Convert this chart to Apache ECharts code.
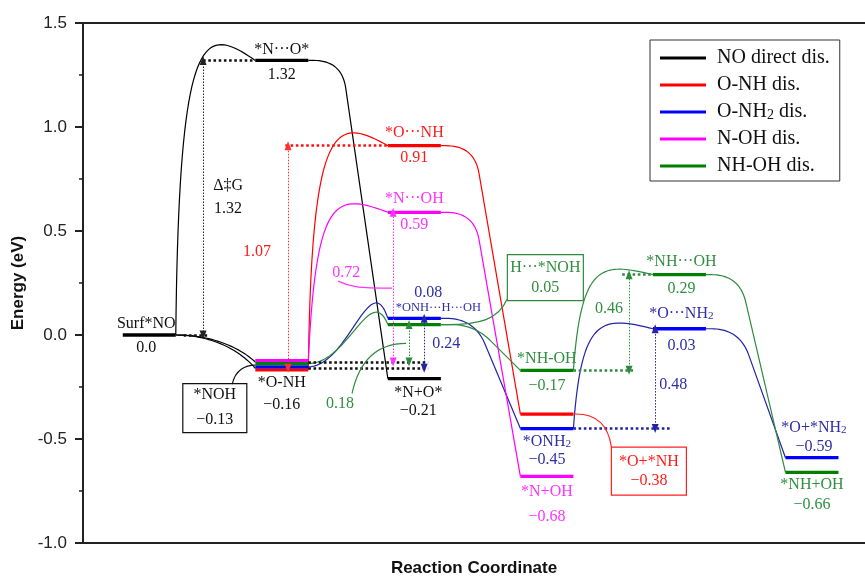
<!DOCTYPE html>
<html><head><meta charset="utf-8">
<script src="https://cdn.jsdelivr.net/npm/echarts@6/dist/echarts.min.js"></script>
<style>html,body{margin:0;padding:0;background:#fff}#c{width:865px;height:579px}</style>
</head><body><div id="c"></div>
<script>
// ---------------- DATA ----------------
const pathNames = ['NO direct dis.', 'O-NH dis.', 'O-NH2 dis.', 'N-OH dis.', 'NH-OH dis.'];

const stepsNoDirect = [0, 1, 2];
const energyNoDirect = [0.00, 1.32, -0.21];
const namesNoDirect = ['Surf*NO', '*N···O*', '*N+O*'];

const stepsONH = [1, 2, 3];
const energyONH = [-0.16, 0.91, -0.38];
const namesONH = ['*O-NH', '*O···NH', '*O+*NH'];

const stepsONH2 = [1, 2, 3, 4, 5];
const energyONH2 = [-0.16, 0.08, -0.45, 0.03, -0.59];
const namesONH2 = ['*O-NH', '*ONH···H···OH', '*ONH2', '*O···NH2', '*O+*NH2'];

const stepsNOH = [1, 2, 3];
const energyNOH = [-0.13, 0.59, -0.68];
const namesNOH = ['*NOH', '*N···OH', '*N+OH'];

const stepsNHOH = [1, 2, 3, 4, 5];
const energyNHOH = [-0.13, 0.05, -0.17, 0.29, -0.66];
const namesNHOH = ['*NOH', 'H···*NOH', '*NH-OH', '*NH···OH', '*NH+OH'];

const yTicks = [-1.0, -0.5, 0.0, 0.5, 1.0, 1.5];

// ---------------- STYLE ----------------
const levelColors = ['#000000', '#ff0000', '#0000ff', '#ff00ff', '#008000'];
const curveColors = ['#000000', '#ff0000', '#2323a8', '#ff00ff', '#2e8b3e'];
const textColors  = ['#111111', '#ff1a1a', '#2e2ea6', '#ff33ff', '#2f8f3f'];
const SERIF = '"Liberation Serif", "DejaVu Serif", serif';
const SANS = '"Liberation Sans", Arial, sans-serif';
const FS = 16;
const HALF = 0.2;                       // half width of a level bar (x units)
const clusterStagger = [0, 1.5, -1.5, -1.5, 1.5]; // px offsets where levels overlap at step 1
const ARROW = {black: 0.406, red: 1.047, magenta: 1.84, green1: 1.96, blue1: 2.074, green2: 3.62, blue2: 3.817};

const paths = [
  {steps: stepsNoDirect, e: energyNoDirect, names: namesNoDirect},
  {steps: stepsONH, e: energyONH, names: namesONH},
  {steps: stepsONH2, e: energyONH2, names: namesONH2},
  {steps: stepsNOH, e: energyNOH, names: namesNOH},
  {steps: stepsNHOH, e: energyNHOH, names: namesNHOH}
];

function fmt(v) { if (v === 0) return '0.0'; const s = Math.abs(v).toFixed(2); return v < 0 ? '\u2212' + s : s; }
function sub(s) { return s.replace(/NH2$/, 'NH{sub|2}'); }
function mid(a, b) { return (a + b) / 2; }
function off(p, s) { return (s === 1 && p > 0) ? clusterStagger[p] : 0; }

// ---------------- CURVES ----------------
function cubic(p0, p1, p2, p3, n) {
  const pts = [];
  for (let i = 0; i <= n; i++) {
    const t = i / n, u = 1 - t;
    const b0 = u*u*u, b1 = 3*u*u*t, b2 = 3*u*t*t, b3 = t*t*t;
    pts.push([b0*p0[0]+b1*p1[0]+b2*p2[0]+b3*p3[0], b0*p0[1]+b1*p1[1]+b2*p2[1]+b3*p3[1]]);
  }
  return pts;
}
function quad(p0, p1, p2, n) {
  const pts = [];
  for (let i = 0; i <= n; i++) {
    const t = i / n, u = 1 - t;
    pts.push([u*u*p0[0]+2*u*t*p1[0]+t*t*p2[0], u*u*p0[1]+2*u*t*p1[1]+t*t*p2[1]]);
  }
  return pts;
}
function connectorPoints(a, b, kind, thr) {
  const dx = b[0] - a[0];
  if (kind === 1) {
    return cubic(a, [a[0] + 0.45*dx, a[1]], [a[0] + 0.8*dx, a[1] + 0.45*(b[1]-a[1])], b, 30);
  }
  const h = a[1] - b[1];
  if (h > 0) {
    if (h < thr) {
      const beta = 1.1 * h;
      return cubic(a, [a[0] + 0.5*dx, a[1]], [a[0] + 0.78*dx, b[1] - beta], b, 40);
    }
    const beta = Math.max(12, 0.13 * h);
    const a1 = h > 200 ? 0.04 : 0.1;
    return cubic(a, [a[0] + a1*dx, b[1] - beta], [a[0] + 0.35*dx, b[1] - beta], b, 40);
  }
  const C = [a[0] + 0.42*dx, a[1]];
  const vx = b[0] - C[0], vy = b[1] - C[1], L = Math.hypot(vx, vy);
  const r = Math.min(28, L * 0.35, (C[0] - a[0]) * 0.95);
  const Q0 = [C[0] - r, C[1]], Q1 = [C[0] + vx/L*r, C[1] + vy/L*r];
  return [a].concat(quad(Q0, C, Q1, 20), [b]);
}

function renderLevel(params, api) {
  const c = api.value(0), e = api.value(1), o = api.value(2);
  const p1 = api.coord([c - HALF, e]), p2 = api.coord([c + HALF, e]);
  return {type: 'line', silent: true,
    shape: {x1: p1[0], y1: p1[1] + o, x2: p2[0], y2: p2[1] + o},
    style: {stroke: api.visual('color'), lineWidth: 3.3}};
}
function renderConnector(params, api) {
  const c0 = api.value(0), e0 = api.value(1), c1 = api.value(2), e1 = api.value(3);
  const o0 = api.value(4), o1 = api.value(5), kind = api.value(6);
  const a = api.coord([c0 + HALF, e0]); a[1] += o0;
  const b = api.coord([c1 - HALF, e1]); b[1] += o1;
  const thr = Math.abs(api.size([0, 0.3])[1]);
  return {type: 'polyline', silent: true,
    shape: {points: connectorPoints(a, b, kind, thr)},
    style: {stroke: api.visual('color'), lineWidth: 1.2, fill: null}};
}

// ---------------- MARK LINES (dotted guides + barrier arrows) ----------------
function hDot(y, x0, x1, color) {
  const ls = {color: color, width: 2.6, type: [2.6, 2.6]};
  return [{coord: [x0, y], symbol: 'none', lineStyle: ls}, {coord: [x1, y], symbol: 'none', lineStyle: ls}];
}
function vArrow(x, y0, y1, color) {
  const ls = {color: color, width: 1, type: [1.5, 1.5]};
  const st = {color: color};
  return [{coord: [x, y0], symbol: 'triangle', symbolSize: [7, 9], lineStyle: ls, itemStyle: st},
          {coord: [x, y1], symbol: 'triangle', symbolSize: [7, 9], lineStyle: ls, itemStyle: st}];
}
const marks = [
  [ // black
    hDot(energyNoDirect[1], ARROW.black, 1 - HALF, '#111'),
    hDot(energyNoDirect[0], 0 + HALF + 0.06, ARROW.black + 0.05, '#111'),
    hDot(energyNOH[0], 1 + HALF, 2.104, '#111'),
    hDot(energyONH[0], 1 + HALF, 2.104, '#111'),
    vArrow(ARROW.black, energyNoDirect[0], energyNoDirect[1], '#222')
  ],
  [ // red
    hDot(energyONH[1], ARROW.red - 0.02, 2 - HALF, '#ff1010'),
    vArrow(ARROW.red, energyONH[0], energyONH[1], '#ff3030')
  ],
  [ // blue
    vArrow(ARROW.blue1, energyONH2[0], energyONH2[1], '#2323a8'),
    hDot(energyONH2[2], 3 + HALF, 3.93, '#2323a8'),
    vArrow(ARROW.blue2, energyONH2[2], energyONH2[3], '#2323a8')
  ],
  [ // magenta
    vArrow(ARROW.magenta, energyNOH[0], energyNOH[1], '#ff33ff')
  ],
  [ // green
    vArrow(ARROW.green1, energyNHOH[0], energyNHOH[1], '#2e8b3e'),
    hDot(energyNHOH[2], 3 + HALF, 3.65, '#2e8b3e'),
    hDot(energyNHOH[3], 3.568, 4 - HALF, '#2e8b3e'),
    vArrow(ARROW.green2, energyNHOH[2], energyNHOH[3], '#2e8b3e')
  ]
];

// ---------------- SERIES ----------------
const series = [];
paths.forEach((P, p) => {
  const conn = [];
  for (let i = 0; i < P.steps.length - 1; i++) {
    conn.push([P.steps[i], P.e[i], P.steps[i+1], P.e[i+1], off(p, P.steps[i]), off(p, P.steps[i+1]), 0]);
  }
  if (p === 0) { // Surf*NO to adsorbed intermediates
    conn.push([stepsNoDirect[0], energyNoDirect[0], stepsNOH[0], energyNOH[0], 0, 0, 1]);
    conn.push([stepsNoDirect[0], energyNoDirect[0], stepsONH[0], energyONH[0], 0, 0, 1]);
  }
  series.push({
    name: pathNames[p], type: 'custom', renderItem: renderConnector, z: 2, silent: true,
    itemStyle: {color: curveColors[p]}, data: conn, animation: false, clip: false
  });
});
paths.forEach((P, p) => {
  series.push({
    name: pathNames[p], type: 'custom', renderItem: renderLevel, z: 4, silent: true,
    itemStyle: {color: levelColors[p]},
    data: P.steps.map((s, i) => [s, P.e[i], off(p, s)]),
    animation: false, clip: false,
    markLine: {silent: true, animation: false, label: {show: false}, symbol: ['none', 'none'],
      emphasis: {disabled: true}, data: marks[p]}
  });
});

const option = {
  backgroundColor: '#ffffff',
  animation: false,
  grid: {left: 83, right: 0, top: 23, bottom: 36, containLabel: false, outerBoundsMode: 'none'},
  legend: {
    orient: 'vertical', left: 650, top: 40, selectedMode: false,
    padding: [8, 10, 5, 10], itemGap: 7, itemWidth: 46, itemHeight: 3, icon: 'rect',
    borderColor: '#333', borderWidth: 1,
    data: pathNames.map((n, i) => ({name: n, itemStyle: {color: levelColors[i]}})),
    formatter: n => n.replace('NH2', 'NH{sub|2}'),
    textStyle: {fontFamily: SERIF, fontSize: 20, color: '#111', padding: [0, 0, 0, 6],
      rich: {sub: {fontFamily: SERIF, fontSize: 14, color: '#111', verticalAlign: 'bottom', padding: [6, 0, 0, 0]}}}
  },
  xAxis: [
    {type: 'value', min: -0.5, max: 5.4, position: 'bottom',
      axisLine: {show: true, onZero: false, lineStyle: {color: '#222', width: 2}},
      axisTick: {show: false}, axisLabel: {show: false}, splitLine: {show: false},
      name: 'Reaction Coordinate', nameLocation: 'middle', nameGap: 17,
      nameTextStyle: {fontFamily: SANS, fontWeight: 'bold', fontSize: 17, color: '#111'}},
    {type: 'value', min: -0.5, max: 5.4, position: 'top',
      axisLine: {show: true, onZero: false, lineStyle: {color: '#222', width: 2}},
      axisTick: {show: false}, axisLabel: {show: false}, splitLine: {show: false}}
  ],
  yAxis: {
    type: 'value', min: yTicks[0], max: yTicks[yTicks.length - 1], interval: 0.5,
    axisLine: {show: true, onZero: false, lineStyle: {color: '#222', width: 2}},
    axisTick: {show: true, length: 8, lineStyle: {color: '#222', width: 2}},
    minorTick: {show: true, splitNumber: 2, length: 4, lineStyle: {color: '#222', width: 1.5}},
    splitLine: {show: false},
    axisLabel: {formatter: v => v.toFixed(1), fontFamily: SANS, fontSize: 17, color: '#222', margin: 16},
    name: 'Energy (eV)', nameLocation: 'middle', nameGap: 52,
    nameTextStyle: {fontFamily: SANS, fontWeight: 'bold', fontSize: 17, color: '#111'}
  },
  series: series
};

const chart = echarts.init(document.getElementById('c'), null, {renderer: 'canvas'});
chart.setOption(option);

// ---------------- ANNOTATIONS ----------------
const px = (c, e) => chart.convertToPixel({gridIndex: 0}, [c, e]);
const G = [];
function txt(t, p, dx, dy, color, size) {
  const fs = size || FS;
  G.push({type: 'text', x: p[0] + dx, y: p[1] + dy, silent: true, z: 100,
    style: {text: t, fill: color, fontFamily: SERIF, fontSize: fs,
      align: 'center', verticalAlign: 'middle', textAlign: 'center', textVerticalAlign: 'middle',
      rich: {sub: {fontFamily: SERIF, fontSize: fs * 0.7, fill: color, verticalAlign: 'bottom'}}}});
}
function box(p, dx, dy, w, h, color) {
  G.push({type: 'rect', silent: true, z: 99,
    shape: {x: p[0] + dx - w/2, y: p[1] + dy - h/2, width: w, height: h},
    style: {fill: 'transparent', stroke: color, lineWidth: 1.2}});
}
function leader(p, d, color) {
  G.push({type: 'bezierCurve', silent: true, z: 98,
    shape: {x1: p[0]+d[0][0], y1: p[1]+d[0][1], cpx1: p[0]+d[1][0], cpy1: p[1]+d[1][1],
            cpx2: p[0]+d[2][0], cpy2: p[1]+d[2][1], x2: p[0]+d[3][0], y2: p[1]+d[3][1]},
    style: {stroke: color, lineWidth: 1.2, fill: 'none'}});
}
const K = textColors[0], R = textColors[1], B = textColors[2], M = textColors[3], Gr = textColors[4];

// NO direct dissociation
let a = px(stepsNoDirect[0], energyNoDirect[0]);
txt(namesNoDirect[0], a, -3, -11, K); txt(fmt(energyNoDirect[0]), a, -3, 13, K);
a = px(stepsNoDirect[1], energyNoDirect[1]);
txt(namesNoDirect[1], a, 0, -11, K); txt(fmt(energyNoDirect[1]), a, 0, 14, K);
a = px(ARROW.black, mid(energyNoDirect[0], energyNoDirect[1]));
txt('\u0394\u2021G', a, 25, -12, K); txt(fmt(energyNoDirect[1] - energyNoDirect[0]), a, 25, 11, K);
a = px(stepsNoDirect[2], energyNoDirect[2]);
txt(namesNoDirect[2], a, 4, 14, K); txt(fmt(energyNoDirect[2]), a, 4, 32, K);

// shared first intermediates
a = px(stepsNOH[0], energyNOH[0]);
box(a, -67, 46, 64, 49, '#111');
txt(namesNOH[0], a, -67, 33, K); txt(fmt(energyNOH[0]), a, -67, 58, K);
leader(px(stepsNOH[0] - HALF, energyNOH[0]), [[-23, 22], [-20, 8], [-10, 3], [0, 3]], '#111');
a = px(stepsONH[0], energyONH[0]);
txt(namesONH[0], a, 0, 15, K); txt(fmt(energyONH[0]), a, 0, 37, K);

// O-NH dissociation
a = px(ARROW.red, mid(energyONH[0], energyONH[1]));
txt(fmt(energyONH[1] - energyONH[0]), a, -31, -5, R);
a = px(stepsONH[1], energyONH[1]);
txt(namesONH[1], a, 0, -13, R); txt(fmt(energyONH[1]), a, 0, 12, R);
a = px(stepsONH[2], energyONH[2]);
box(a, 102, 57, 75, 48, '#ff2020');
txt(namesONH[2], a, 102, 48, R); txt(fmt(energyONH[2]), a, 102, 67, R);
leader(px(stepsONH[2] + HALF, energyONH[2]), [[0, 0], [24, -1], [35, 12], [38, 33]], '#ff2020');

// N-OH dissociation
a = px(stepsNOH[1], energyNOH[1]);
txt(namesNOH[1], a, 0, -13, M); txt(fmt(energyNOH[1]), a, 0, 13, M);
a = px(ARROW.magenta, mid(energyNOH[0], energyNOH[1]));
txt(fmt(energyNOH[1] - energyNOH[0]), a, -47, -14, M);
leader(a, [[-55, -6], [-43, 0], [-35, 1], [-1, 1]], '#ff33ff');
a = px(stepsNOH[2], energyNOH[2]);
txt(namesNOH[2], a, 0, 15, M); txt(fmt(energyNOH[2]), a, 0, 40, M);

// O-NH2 dissociation
a = px(stepsONH2[1], energyONH2[1]);
txt(fmt(energyONH2[1]), a, 14, -26, B); txt(namesONH2[1], a, 24, -11, B, 12.5);
a = px(ARROW.blue1, mid(energyONH2[0], energyONH2[1]));
txt(fmt(energyONH2[1] - energyONH2[0]), a, 22, 0, B);
a = px(stepsONH2[2], energyONH2[2]);
txt(sub(namesONH2[2]), a, 0, 13, B); txt(fmt(energyONH2[2]), a, 0, 31, B);
a = px(stepsONH2[3], energyONH2[3]);
txt(sub(namesONH2[3]), a, 2, -15, B); txt(fmt(energyONH2[3]), a, 2, 17, B);
a = px(ARROW.blue2, mid(energyONH2[2], energyONH2[3]));
txt(fmt(energyONH2[3] - energyONH2[2]), a, 18, 6, B);
a = px(stepsONH2[4], energyONH2[4]);
txt(sub(namesONH2[4]), a, 2, -30, B); txt(fmt(energyONH2[4]), a, 2, -11, B);

// NH-OH dissociation
a = px(ARROW.green1, mid(energyNHOH[0], energyNHOH[1]));
txt(fmt(energyNHOH[1] - energyNHOH[0]), a, -69, 60, Gr);
leader(a, [[-57, 50], [-50, 18], [-32, 0], [-3, 0]], '#2e8b3e');
a = px(stepsNHOH[1], energyNHOH[1]);
box(a, 131, -47, 76, 46, '#2e8b3e');
txt(namesNHOH[1], a, 131, -57, Gr); txt(fmt(energyNHOH[1]), a, 131, -37, Gr);
leader(px(stepsNHOH[1] + HALF, energyNHOH[1]), [[0, 0], [40, 1], [58, -6], [66, -25]], '#2e8b3e');
a = px(stepsNHOH[2], energyNHOH[2]);
txt(namesNHOH[2], a, 0, -12, Gr); txt(fmt(energyNHOH[2]), a, 0, 15, Gr);
a = px(ARROW.green2, mid(energyNHOH[2], energyNHOH[3]));
txt(fmt(energyNHOH[3] - energyNHOH[2]), a, -20, -14, Gr);
a = px(stepsNHOH[3], energyNHOH[3]);
txt(namesNHOH[3], a, 2, -13, Gr); txt(fmt(energyNHOH[3]), a, 2, 14, Gr);
a = px(stepsNHOH[4], energyNHOH[4]);
txt(namesNHOH[4], a, 0, 13, Gr); txt(fmt(energyNHOH[4]), a, 0, 33, Gr);

chart.setOption({graphic: {elements: G}});
</script>
</body></html>
